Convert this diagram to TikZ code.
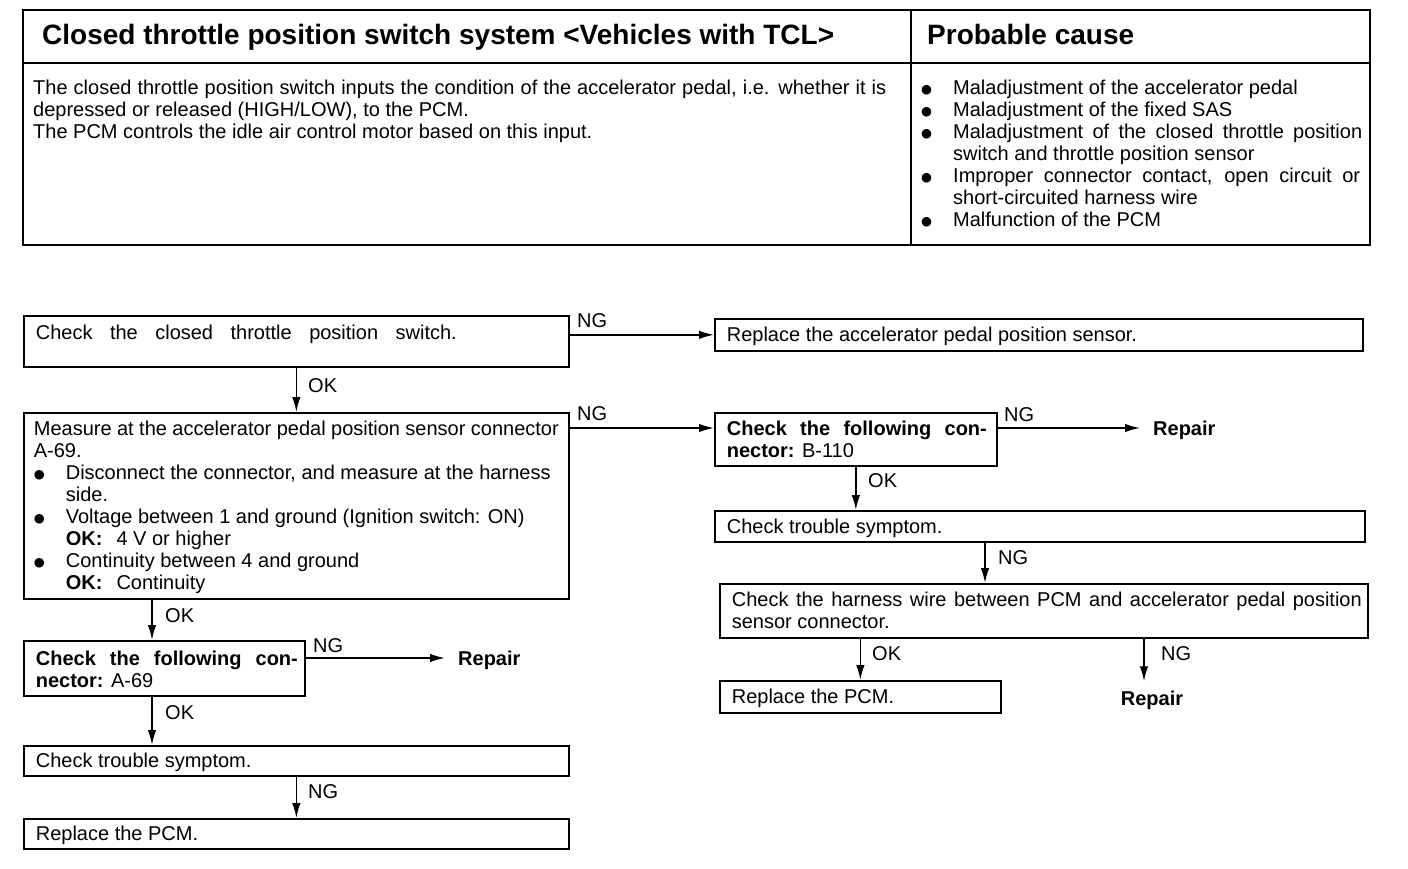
\documentclass[tikz,border=0pt]{standalone}
\usepackage{fontspec}
\setmainfont{Liberation Sans}
\newfontfamily\dejavu{DejaVu Sans}
\usetikzlibrary{arrows.meta,calc}
\newcommand\bfont{\fontsize{20}{22}\selectfont}
\newcommand\hfont{\fontsize{28}{32}\selectfont\bfseries}
% box content: [top offset]{width}{height}{text}
\newcommand\bx[4][7.5]{\parbox[c][#3pt][t]{\dimexpr#2pt-24pt\relax}{\vspace*{#1pt}\strut#4}}
\newcommand\bigdot{\raisebox{1.2pt}{\dejavu\fontsize{12.5}{12.5}\selectfont ●}}
\newcommand\bul{\makebox[32pt][l]{\bigdot}}
\newcommand\ind{\hspace*{32pt}}
\begin{document}
\begin{tikzpicture}[x=1pt,y=-1pt,
  box/.style={draw, line width=1.7pt, inner xsep=12pt, inner ysep=0pt, anchor=north west, font=\bfont},
  lbl/.style={font=\bfont, inner sep=0pt, anchor=base west},
  rep/.style={font=\bfont\bfseries, inner sep=0pt, anchor=base west},
  txt/.style={font=\bfont, inner sep=0pt, anchor=north west},
  arr/.style={line width=1.6pt, -{Latex[length=15pt,width=8.5pt]}},
  tline/.style={line width=2pt}]
\useasboundingbox (0,0) rectangle (1408,868);
% ---------- table ----------
\draw[tline] (23,10) rectangle (1370,245);
\draw[tline] (23,63) -- (1370,63);
\draw[tline] (911,10) -- (911,245);
\node[anchor=base west, font=\hfont, inner sep=0pt] (title) at (42,44.5) {Closed throttle position switch system <Vehicles with TCL>};
\node[anchor=base west, font=\hfont, inner sep=0pt] (pc) at (927,44.5) {Probable cause};
\node[txt] (desc) at (33,78.6) {\parbox[t]{870pt}{\strut\makebox[853pt][s]{The closed throttle position switch inputs the condition of the accelerator pedal, i.e. whether it is}\\
depressed or released (HIGH/LOW), to the PCM.\\
The PCM controls the idle air control motor based on this input.}};
\node[txt] (causes) at (921,78.6) {\parbox[t]{445pt}{\strut\bul Maladjustment of the accelerator pedal\\
\bul Maladjustment of the fixed SAS\\
\bul\makebox[409pt][s]{Maladjustment of the closed throttle position}\\
\ind switch and throttle position sensor\\
\bul\makebox[407pt][s]{Improper connector contact, open circuit or}\\
\ind short-circuited harness wire\\
\bul Malfunction of the PCM}};
% ---------- flowchart: left column ----------
\node[box] (B1) at (23,315) {\bx[8.5]{545}{51}{\makebox[421pt][s]{Check the closed throttle position switch.}}};
\node[box, inner xsep=10pt] (B2) at (23,412) {\bx{549}{186}{Measure at the accelerator pedal position sensor connector\\
A-69.\\
\bul Disconnect the connector, and measure at the harness\\
\ind side.\\
\bul Voltage between 1 and ground (Ignition switch: ON)\\
\ind\textbf{OK:}\hspace{14pt}4 V or higher\\
\bul Continuity between 4 and ground\\
\ind\textbf{OK:}\hspace{14pt}Continuity}};
\node[box] (B3) at (23,640) {\bx[9.5]{281}{55}{\makebox[262pt][s]{\bfseries Check the following con-}\\
\textbf{nector:} A-69}};
\node[box] (B4) at (23,745) {\bx[5.8]{545}{30}{Check trouble symptom.}};
\node[box] (B5) at (23,818) {\bx[5.8]{545}{30}{Replace the PCM.}};
\node[rep] (RepB) at (458,665) {Repair};
% ---------- flowchart: right column ----------
\node[box] (R1) at (714,318) {\bx[7]{648}{32}{Replace the accelerator pedal position sensor.}};
\node[box] (R2) at (714,412) {\bx{282}{53}{\makebox[260pt][s]{\bfseries Check the following con-}\\
\textbf{nector:} B-110}};
\node[box] (R3) at (714,510) {\bx[6.8]{650}{31}{Check trouble symptom.}};
\node[box] (R4) at (719,583) {\bx{648}{54}{\makebox[630pt][s]{Check the harness wire between PCM and accelerator pedal position}\\
sensor connector.}};
\node[box] (R5) at (719,680) {\bx{281}{32}{Replace the PCM.}};
\node[rep] (RepA) at (1153,435) {Repair};
\node[rep, anchor=base] (RepC) at (1152,705) {Repair};
% ---------- connectors ----------
\draw[arr] (B1.east |- R1.west) -- (R1.west);
\coordinate (p2) at ($(B2.north east)+(0,16)$);
\draw[arr] (p2) -- (p2 -| R2.west);
\coordinate (p3) at ($(R2.north east)+(0,16)$);
\draw[arr, shorten >=13pt] (p3) -- (p3 -| RepA.west);
\coordinate (p4) at ($(B3.north east)+(0,18)$);
\draw[arr, shorten >=13pt] (p4) -- (p4 -| RepB.west);
\draw[arr] (B1.south) -- (B2.north);
\coordinate (c23) at ($(B3.north west)+(129,0)$);
\draw[arr] (B2.south -| c23) -- (c23);
\draw[arr] (B3.south -| c23) -- (B4.north -| c23);
\draw[arr] (B4.south) -- (B5.north);
\draw[arr] (R2.south) -- (R2.south |- R3.north);
\coordinate (c34) at ($(R3.south west)+(271,0)$);
\draw[arr] (c34) -- (c34 |- R4.north);
\draw[arr] (R4.south -| R5.north) -- (R5.north);
\coordinate (c45) at ($(R4.south west)+(425,0)$);
\draw[arr, shorten >=9pt] (c45) -- (c45 |- RepC.north);
% ---------- labels ----------
\node[lbl] (ng1) at (577,327) {NG};
\node[lbl] (ok1) at (308,392) {OK};
\node[lbl] (ng2) at (577,420) {NG};
\node[lbl] (ng3) at (1004,421) {NG};
\node[lbl] (ok2) at (868,487) {OK};
\node[lbl] (ng4) at (998,564) {NG};
\node[lbl] (ok3) at (872,660) {OK};
\node[lbl] (ng5) at (1161,660) {NG};
\node[lbl] (ok4) at (165,622) {OK};
\node[lbl] (ng6) at (313,652) {NG};
\node[lbl] (ok5) at (165,719) {OK};
\node[lbl] (ng7) at (308,798) {NG};
\end{tikzpicture}
\end{document}
